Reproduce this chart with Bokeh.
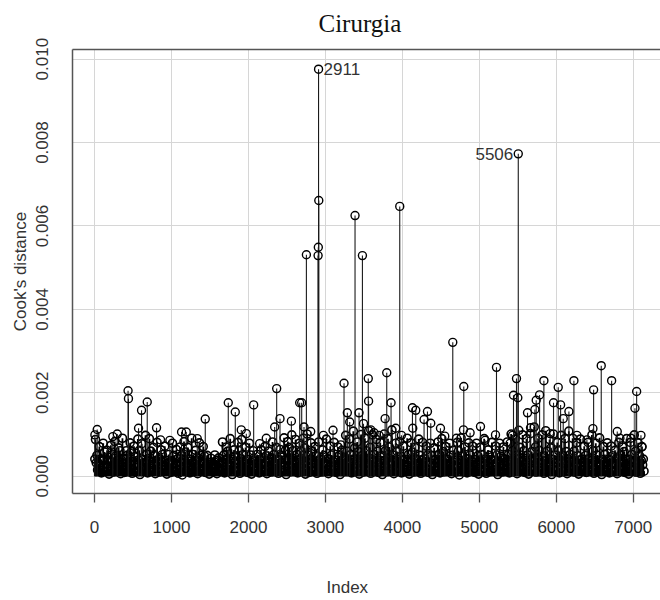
import numpy as np
from bokeh.plotting import figure
from bokeh.models import (Range1d, FixedTicker, NumeralTickFormatter, LinearAxis,
                          Title, ColumnDataSource)
from bokeh.core.properties import value
from bokeh.embed import file_html
from bokeh.resources import INLINE

# ---------------- data ----------------
title = "Cirurgia"
x_label = "Index"
y_label = "Cook's distance"
x_ticks = [0, 1000, 2000, 3000, 4000, 5000, 6000, 7000]
y_ticks = [0.000, 0.002, 0.004, 0.006, 0.008, 0.010]

# prominent observations (index, Cook's distance)
spike_idx = [5, 35, 238, 295, 436, 441, 572, 611, 685, 806, 858, 979, 1131, 1192,
             1335, 1439, 1738, 1829, 1907, 1972, 2068, 2146, 2232, 2341, 2367, 2410,
             2558, 2666, 2692, 2722, 2753, 2809, 2905, 2908, 2911, 2914, 2974, 3099,
             3199, 3242, 3285, 3316, 3385, 3437, 3481, 3495, 3557, 3561, 3589, 3632,
             3697, 3776, 3797, 3853, 3914, 3966, 3988, 4131, 4135, 4174, 4282, 4326,
             4369, 4495, 4551, 4655, 4703, 4794, 4798, 4880, 5015, 5075, 5210, 5223,
             5400, 5432, 5444, 5483, 5500, 5506, 5626, 5665, 5722, 5739, 5783, 5839,
             5921, 5964, 6025, 6056, 6090, 6164, 6229, 6268, 6398, 6476, 6485, 6584,
             6719, 6792, 6827, 6970, 7022, 7044, 7100, 7113]
spike_val = [0.00099, 0.00112, 0.00095, 0.00101, 0.00205, 0.00186, 0.00115, 0.00158,
             0.00178, 0.00116, 0.00087, 0.00086, 0.00106, 0.00106, 0.00090, 0.00137,
             0.00176, 0.00154, 0.00111, 0.00102, 0.00171, 0.00078, 0.00091, 0.00118,
             0.00210, 0.00138, 0.00132, 0.00176, 0.00176, 0.00118, 0.00531, 0.00107,
             0.00529, 0.00549, 0.00976, 0.00661, 0.00098, 0.00110, 0.00075, 0.00223,
             0.00152, 0.00130, 0.00625, 0.00152, 0.00529, 0.00126, 0.00234, 0.00180,
             0.00111, 0.00104, 0.00098, 0.00138, 0.00248, 0.00176, 0.00115, 0.00647,
             0.00098, 0.00164, 0.00115, 0.00158, 0.00136, 0.00155, 0.00127, 0.00115,
             0.00096, 0.00321, 0.00091, 0.00111, 0.00215, 0.00104, 0.00119, 0.00086,
             0.00099, 0.00261, 0.00079, 0.00098, 0.00194, 0.00234, 0.00188, 0.00773,
             0.00152, 0.00116, 0.00160, 0.00182, 0.00195, 0.00229, 0.00102, 0.00176,
             0.00213, 0.00171, 0.00138, 0.00155, 0.00229, 0.00098, 0.00087, 0.00114,
             0.00207, 0.00265, 0.00229, 0.00107, 0.00091, 0.00091, 0.00163, 0.00203,
             0.00098, 0.00070]

# dense mass of small values: estimated per block of 50 observations
block_size = 50
base_hi = [0.00088, 0.00071, 0.00079, 0.00062, 0.00074, 0.00083, 0.00068, 0.00091, 0.00061, 0.00080,
           0.00072, 0.00089, 0.00078, 0.00098, 0.00090, 0.00069, 0.00081, 0.00063, 0.00072, 0.00052,
           0.00079, 0.00064, 0.00070, 0.00083, 0.00069, 0.00091, 0.00062, 0.00080, 0.00071, 0.00050,
           0.00043, 0.00051, 0.00044, 0.00082, 0.00070, 0.00090, 0.00063, 0.00081, 0.00088, 0.00069,
           0.00079, 0.00061, 0.00052, 0.00063, 0.00071, 0.00060, 0.00082, 0.00069, 0.00064, 0.00092,
           0.00083, 0.00099, 0.00088, 0.00079, 0.00091, 0.00101, 0.00080, 0.00071, 0.00082, 0.00063,
           0.00089, 0.00072, 0.00081, 0.00070, 0.00062, 0.00098, 0.00089, 0.00108, 0.00082, 0.00100,
           0.00091, 0.00109, 0.00099, 0.00088, 0.00081, 0.00101, 0.00090, 0.00111, 0.00079, 0.00083,
           0.00072, 0.00091, 0.00080, 0.00069, 0.00089, 0.00081, 0.00072, 0.00079, 0.00068, 0.00082,
           0.00090, 0.00071, 0.00079, 0.00062, 0.00081, 0.00092, 0.00070, 0.00080, 0.00072, 0.00079,
           0.00069, 0.00090, 0.00063, 0.00081, 0.00072, 0.00079, 0.00070, 0.00082, 0.00101, 0.00089,
           0.00110, 0.00099, 0.00090, 0.00102, 0.00118, 0.00091, 0.00099, 0.00109, 0.00088, 0.00101,
           0.00081, 0.00098, 0.00090, 0.00108, 0.00091, 0.00080, 0.00089, 0.00072, 0.00081, 0.00099,
           0.00079, 0.00092, 0.00071, 0.00080, 0.00072, 0.00062, 0.00081, 0.00070, 0.00090, 0.00081,
           0.00099, 0.00080, 0.00071]
base_mid = [0.00050, 0.00041, 0.00058, 0.00039, 0.00052, 0.00049, 0.00061, 0.00042, 0.00051, 0.00059,
            0.00048, 0.00062, 0.00040, 0.00053, 0.00060, 0.00049, 0.00041, 0.00052, 0.00038, 0.00031,
            0.00050, 0.00042, 0.00049, 0.00058, 0.00041, 0.00052, 0.00039, 0.00050, 0.00048, 0.00029,
            0.00030, 0.00038, 0.00032, 0.00051, 0.00060, 0.00041, 0.00049, 0.00061, 0.00052, 0.00040,
            0.00051, 0.00039, 0.00031, 0.00042, 0.00049, 0.00040, 0.00052, 0.00041, 0.00050, 0.00062,
            0.00069, 0.00061, 0.00052, 0.00060, 0.00068, 0.00051, 0.00059, 0.00049, 0.00041, 0.00050,
            0.00042, 0.00051, 0.00039, 0.00049, 0.00041, 0.00060, 0.00052, 0.00068, 0.00059, 0.00050,
            0.00061, 0.00069, 0.00052, 0.00060, 0.00049, 0.00061, 0.00070, 0.00051, 0.00059, 0.00048,
            0.00040, 0.00052, 0.00058, 0.00041, 0.00050, 0.00042, 0.00051, 0.00049, 0.00040, 0.00052,
            0.00059, 0.00041, 0.00050, 0.00039, 0.00061, 0.00049, 0.00042, 0.00051, 0.00040, 0.00049,
            0.00052, 0.00041, 0.00050, 0.00039, 0.00051, 0.00048, 0.00041, 0.00052, 0.00060, 0.00050,
            0.00069, 0.00061, 0.00051, 0.00059, 0.00070, 0.00062, 0.00049, 0.00060, 0.00068, 0.00051,
            0.00061, 0.00050, 0.00059, 0.00052, 0.00060, 0.00049, 0.00041, 0.00050, 0.00042, 0.00061,
            0.00051, 0.00040, 0.00052, 0.00041, 0.00049, 0.00042, 0.00050, 0.00059, 0.00041, 0.00052,
            0.00060, 0.00049, 0.00041]
base_q1 = [0.00032, 0.00025, 0.00038, 0.00021, 0.00034, 0.00027, 0.00040, 0.00023, 0.00031, 0.00036,
           0.00028, 0.00039, 0.00022, 0.00033, 0.00037, 0.00026, 0.00030, 0.00035, 0.00024, 0.00019,
           0.00031, 0.00027, 0.00034, 0.00038, 0.00025, 0.00032, 0.00022, 0.00036, 0.00029, 0.00018,
           0.00020, 0.00024, 0.00019, 0.00033, 0.00039, 0.00026, 0.00031, 0.00037, 0.00034, 0.00023,
           0.00030, 0.00025, 0.00020, 0.00028, 0.00033, 0.00024, 0.00035, 0.00027, 0.00032, 0.00039,
           0.00042, 0.00038, 0.00033, 0.00040, 0.00036, 0.00031, 0.00038, 0.00029, 0.00025, 0.00033,
           0.00027, 0.00034, 0.00024, 0.00031, 0.00026, 0.00039, 0.00033, 0.00041, 0.00037, 0.00032,
           0.00040, 0.00043, 0.00034, 0.00039, 0.00031, 0.00038, 0.00044, 0.00033, 0.00037, 0.00030,
           0.00026, 0.00034, 0.00038, 0.00027, 0.00032, 0.00025, 0.00033, 0.00031, 0.00024, 0.00035,
           0.00037, 0.00027, 0.00032, 0.00023, 0.00039, 0.00031, 0.00026, 0.00034, 0.00025, 0.00030,
           0.00034, 0.00026, 0.00031, 0.00024, 0.00033, 0.00029, 0.00027, 0.00035, 0.00038, 0.00032,
           0.00043, 0.00039, 0.00033, 0.00037, 0.00044, 0.00040, 0.00031, 0.00038, 0.00042, 0.00033,
           0.00039, 0.00032, 0.00037, 0.00034, 0.00038, 0.00031, 0.00026, 0.00032, 0.00027, 0.00039,
           0.00033, 0.00025, 0.00034, 0.00026, 0.00031, 0.00027, 0.00032, 0.00037, 0.00026, 0.00034,
           0.00038, 0.00031, 0.00027]
base_q2 = [0.00041, 0.00030, 0.00037, 0.00027, 0.00035, 0.00043, 0.00029, 0.00034, 0.00040, 0.00031,
           0.00036, 0.00026, 0.00042, 0.00033, 0.00039, 0.00028, 0.00035, 0.00041, 0.00027, 0.00032,
           0.00037, 0.00030, 0.00025, 0.00040, 0.00031, 0.00036, 0.00029, 0.00043, 0.00034, 0.00026,
           0.00033, 0.00028, 0.00038, 0.00031, 0.00041, 0.00027, 0.00036, 0.00030, 0.00042, 0.00033,
           0.00027, 0.00037, 0.00031, 0.00040, 0.00029, 0.00035, 0.00044, 0.00030, 0.00038, 0.00027,
           0.00037, 0.00042, 0.00032, 0.00038, 0.00029, 0.00035, 0.00041, 0.00031, 0.00036, 0.00039,
           0.00030, 0.00040, 0.00034, 0.00027, 0.00037, 0.00043, 0.00032, 0.00038, 0.00029, 0.00036,
           0.00041, 0.00031, 0.00039, 0.00034, 0.00027, 0.00037, 0.00042, 0.00030, 0.00038, 0.00032,
           0.00040, 0.00028, 0.00036, 0.00044, 0.00031, 0.00038, 0.00034, 0.00027, 0.00039, 0.00032,
           0.00037, 0.00041, 0.00030, 0.00035, 0.00026, 0.00038, 0.00032, 0.00042, 0.00034, 0.00028,
           0.00039, 0.00031, 0.00037, 0.00040, 0.00027, 0.00036, 0.00043, 0.00032, 0.00038, 0.00030,
           0.00041, 0.00034, 0.00028, 0.00039, 0.00036, 0.00044, 0.00031, 0.00037, 0.00027, 0.00040,
           0.00032, 0.00038, 0.00030, 0.00042, 0.00036, 0.00028, 0.00039, 0.00034, 0.00041, 0.00031,
           0.00037, 0.00027, 0.00040, 0.00032, 0.00038, 0.00030, 0.00043, 0.00034, 0.00028, 0.00039,
           0.00036, 0.00031, 0.00038]
base_lo = [0.00015, 0.00008, 0.00012, 0.00005, 0.00010, 0.00018, 0.00006, 0.00009, 0.00014, 0.00007,
           0.00011, 0.00004, 0.00016, 0.00008, 0.00013, 0.00006, 0.00010, 0.00015, 0.00005, 0.00009,
           0.00012, 0.00007, 0.00003, 0.00014, 0.00008, 0.00011, 0.00006, 0.00017, 0.00009, 0.00005,
           0.00010, 0.00006, 0.00013, 0.00008, 0.00015, 0.00004, 0.00011, 0.00007, 0.00016, 0.00009,
           0.00005, 0.00012, 0.00008, 0.00014, 0.00006, 0.00010, 0.00018, 0.00007, 0.00013, 0.00004,
           0.00011, 0.00016, 0.00008, 0.00012, 0.00005, 0.00009, 0.00015, 0.00007, 0.00010, 0.00013,
           0.00006, 0.00014, 0.00009, 0.00004, 0.00011, 0.00017, 0.00008, 0.00012, 0.00005, 0.00010,
           0.00015, 0.00007, 0.00013, 0.00009, 0.00004, 0.00011, 0.00016, 0.00006, 0.00012, 0.00008,
           0.00014, 0.00005, 0.00010, 0.00018, 0.00007, 0.00012, 0.00009, 0.00004, 0.00013, 0.00008,
           0.00011, 0.00015, 0.00006, 0.00010, 0.00003, 0.00012, 0.00008, 0.00016, 0.00009, 0.00005,
           0.00013, 0.00007, 0.00011, 0.00014, 0.00004, 0.00010, 0.00017, 0.00008, 0.00012, 0.00006,
           0.00015, 0.00009, 0.00005, 0.00013, 0.00010, 0.00018, 0.00007, 0.00011, 0.00004, 0.00014,
           0.00008, 0.00012, 0.00006, 0.00016, 0.00010, 0.00005, 0.00013, 0.00009, 0.00015, 0.00007,
           0.00011, 0.00004, 0.00014, 0.00008, 0.00012, 0.00006, 0.00017, 0.00009, 0.00005, 0.00013,
           0.00010, 0.00007, 0.00012]

labelled_idx = [2911, 5506]
labelled_val = [0.00976, 0.00773]
labelled_txt = ["2911", "5506"]

# ---------------- assemble observations ----------------
bx, by = [], []
for series, off in ((base_q2, 4), (base_hi, 13), (base_q1, 22), (base_mid, 31), (base_lo, 40)):
    for b, v in enumerate(series):
        bx.append(b * block_size + off)
        by.append(v)
base_src = ColumnDataSource(dict(x=bx, y=by, y0=[0.0] * len(bx)))
spike_src = ColumnDataSource(dict(x=spike_idx, y=spike_val, y0=[0.0] * len(spike_idx)))

FONT = "Liberation Sans"
INK = "#000000"
BOX = "#555555"
TXT = "#333333"

p = figure(width=660, height=600, output_backend="svg", toolbar_location=None,
           x_range=Range1d(-286, 7354), y_range=Range1d(-0.000415, 0.010232),
           min_border_left=72, min_border_right=0, min_border_top=49,
           min_border_bottom=107)
p.outline_line_color = None
p.background_fill_color = "white"
p.border_fill_color = "white"

# grid
p.xgrid.ticker = FixedTicker(ticks=x_ticks)
p.ygrid.ticker = FixedTicker(ticks=y_ticks)
for g in (p.xgrid[0], p.ygrid[0]):
    g.grid_line_color = "#d6d6d6"
    g.grid_line_width = 1

# x axis
xa = p.xaxis[0]
xa.ticker = FixedTicker(ticks=x_ticks)
xa.axis_line_color = BOX
xa.axis_line_width = 1.5
xa.major_tick_in = 0
xa.major_tick_out = 9
xa.major_tick_line_color = BOX
xa.major_tick_line_width = 1.3
xa.minor_tick_line_color = None
xa.major_label_text_font = FONT
xa.major_label_text_font_size = "17px"
xa.major_label_text_color = TXT
xa.major_label_standoff = 18

# blank spacer below the tick labels, then the x label as a title
p.add_layout(Title(text=" ", text_font_size="1px", standoff=39), "below")
p.add_layout(Title(text=x_label, align="left", offset=254, text_font=FONT,
                   text_font_size="17px", text_font_style="normal", text_color=TXT,
                   vertical_align="top", standoff=0), "below")

# y axis
ya = p.yaxis[0]
ya.ticker = FixedTicker(ticks=y_ticks)
ya.formatter = NumeralTickFormatter(format="0.000")
ya.axis_line_color = BOX
ya.axis_line_width = 1.5
ya.major_tick_in = 0
ya.major_tick_out = 0
ya.major_tick_line_color = None
ya.minor_tick_line_color = None
ya.major_label_orientation = "vertical"
ya.major_label_text_font = FONT
ya.major_label_text_font_size = "17px"
ya.major_label_text_color = TXT
ya.major_label_standoff = 24
ya.axis_label = y_label
ya.axis_label_text_font = FONT
ya.axis_label_text_font_size = "17px"
ya.axis_label_text_font_style = "normal"
ya.axis_label_text_color = TXT
ya.axis_label_standoff = 4

# top edge of the box
top = LinearAxis(ticker=FixedTicker(ticks=[]), axis_line_color=BOX, axis_line_width=1.5,
                 major_tick_line_color=None, minor_tick_line_color=None,
                 major_label_text_font_size="0px")
p.add_layout(top, "above")
# blank spacer between the box and the title
p.add_layout(Title(text=" ", text_font_size="1px", standoff=10), "above")

# title (top)
p.title = Title(text=title, align="left", offset=246, text_font="Liberation Serif",
                text_font_size="25px", text_font_style="normal", text_color="#111111",
                vertical_align="bottom", standoff=0)

# stems and points: the dense mass first, then the larger observations
p.segment(x0="x", y0="y0", x1="x", y1="y", source=base_src, line_color=INK, line_width=1.8)
p.scatter(x="x", y="y", source=base_src, marker="circle", size=8, fill_color=None,
          line_color=INK, line_width=1.6)
p.segment(x0="x", y0="y0", x1="x", y1="y", source=spike_src, line_color="#1a1a1a", line_width=1.1)
p.scatter(x="x", y="y", source=spike_src, marker="circle", size=8, fill_color=None,
          line_color=INK, line_width=1.4)

# labels of the two largest
p.text(x=[labelled_idx[0]], y=[labelled_val[0]], text=[labelled_txt[0]], x_offset=5,
       text_align="left", text_baseline="middle", text_font_size="17px",
       text_color=TXT, text_font=value(FONT))
p.text(x=[labelled_idx[1]], y=[labelled_val[1]], text=[labelled_txt[1]], x_offset=-5,
       text_align="right", text_baseline="middle", text_font_size="17px",
       text_color=TXT, text_font=value(FONT))

open("out.html", "w").write(file_html(p, INLINE))
